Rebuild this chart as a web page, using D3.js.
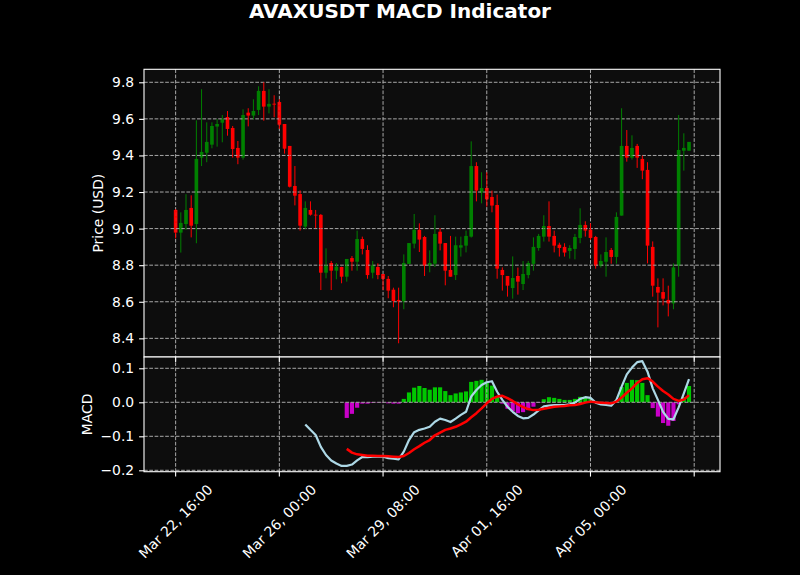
<!DOCTYPE html>
<html>
<head>
<meta charset="utf-8">
<script src="https://cdn.jsdelivr.net/npm/d3@7"></script>
<style>
  body { margin: 0; background: #000; }
  svg { display: block; }
  text { font-family: "DejaVu Sans", sans-serif; fill: #fff; }
</style>
</head>
<body>
<div class="container"></div>
<script>
// 4h candles, first one at Mar 22 16:00
const START = Date.UTC(2025, 2, 22, 16, 0);
const HOUR = 3600 * 1000;
const STEP_H = 4;

const opens = [9.102, 8.978, 9.025, 9.113, 9.025, 9.388, 9.415, 9.459, 9.558, 9.579,
  9.610, 9.550, 9.441, 9.388, 9.634, 9.618, 9.649, 9.753, 9.667, 9.683,
  9.692, 9.572, 9.452, 9.233, 9.189, 9.011, 9.102, 9.076, 9.075, 8.759,
  8.812, 8.770, 8.790, 8.737, 8.839, 8.819, 8.943, 8.883, 8.759, 8.790,
  8.752, 8.725, 8.666, 8.610, 8.602, 8.807, 8.918, 8.993, 8.954, 8.797,
  8.808, 8.983, 8.921, 8.774, 8.746, 8.896, 8.907, 8.956, 9.342, 9.197,
  9.222, 9.173, 9.129, 8.774, 8.741, 8.675, 8.741, 8.697, 8.746, 8.807,
  8.894, 8.956, 9.014, 8.960, 8.912, 8.900, 8.878, 8.889, 8.949, 9.020,
  8.994, 8.954, 8.797, 8.819, 8.883, 8.845, 9.071, 9.452, 9.388, 9.452,
  9.381, 9.321, 8.900, 8.681, 8.653, 8.610, 8.591, 8.797, 9.426, 9.426];
const highs = [9.107, 9.089, 9.188, 9.182, 9.592, 9.762, 9.581, 9.581, 9.599, 9.621,
  9.643, 9.561, 9.479, 9.652, 9.658, 9.707, 9.778, 9.800, 9.762, 9.729,
  9.707, 9.572, 9.452, 9.342, 9.209, 9.149, 9.149, 9.102, 9.080, 8.892,
  8.823, 8.812, 8.792, 8.834, 8.850, 8.989, 8.956, 8.909, 8.823, 8.810,
  8.752, 8.741, 8.677, 8.677, 8.859, 8.921, 9.080, 9.029, 8.960, 8.881,
  9.073, 9.002, 8.921, 8.960, 8.956, 8.956, 8.989, 9.477, 9.363, 9.308,
  9.308, 9.208, 9.186, 8.788, 8.741, 8.848, 8.787, 8.823, 8.823, 8.952,
  8.971, 9.073, 9.149, 8.989, 8.923, 8.920, 8.909, 8.971, 9.111, 9.040,
  9.029, 8.960, 8.859, 8.952, 8.894, 9.089, 9.658, 9.539, 9.510, 9.463,
  9.399, 9.363, 8.930, 8.728, 8.728, 8.688, 8.810, 9.621, 9.521, 9.474];
const lows = [8.947, 8.869, 8.993, 8.952, 8.920, 9.342, 9.363, 9.439, 9.448, 9.472,
  9.508, 9.388, 9.352, 9.377, 9.559, 9.598, 9.621, 9.590, 9.630, 9.609,
  9.545, 9.410, 9.225, 9.127, 8.989, 8.998, 9.071, 9.002, 8.664, 8.728,
  8.664, 8.723, 8.701, 8.710, 8.770, 8.770, 8.859, 8.726, 8.728, 8.723,
  8.664, 8.619, 8.570, 8.373, 8.559, 8.807, 8.892, 8.872, 8.741, 8.761,
  8.790, 8.881, 8.690, 8.737, 8.719, 8.847, 8.870, 8.951, 9.149, 9.138,
  9.120, 9.089, 8.726, 8.661, 8.628, 8.617, 8.639, 8.664, 8.728, 8.770,
  8.879, 8.929, 8.929, 8.870, 8.847, 8.847, 8.836, 8.832, 8.920, 8.956,
  8.938, 8.781, 8.787, 8.737, 8.808, 8.808, 9.071, 9.366, 9.377, 9.332,
  9.270, 8.810, 8.628, 8.460, 8.580, 8.520, 8.559, 8.737, 9.317, 9.426];
const closes = [8.978, 9.031, 9.102, 9.016, 9.381, 9.419, 9.474, 9.561, 9.572, 9.598,
  9.545, 9.435, 9.388, 9.621, 9.618, 9.643, 9.753, 9.667, 9.682, 9.678,
  9.568, 9.437, 9.229, 9.180, 9.016, 9.113, 9.076, 9.073, 8.759, 8.799,
  8.770, 8.792, 8.737, 8.834, 8.819, 8.943, 8.889, 8.746, 8.799, 8.746,
  8.725, 8.661, 8.604, 8.602, 8.812, 8.921, 8.993, 8.940, 8.797, 8.812,
  8.971, 8.918, 8.770, 8.737, 8.909, 8.909, 8.960, 9.342, 9.208, 9.222,
  9.160, 9.126, 8.781, 8.746, 8.688, 8.730, 8.710, 8.752, 8.812, 8.900,
  8.960, 9.014, 8.956, 8.907, 8.894, 8.869, 8.894, 8.954, 9.020, 8.989,
  8.949, 8.797, 8.823, 8.872, 8.845, 9.064, 9.452, 9.388, 9.441, 9.388,
  9.317, 8.907, 8.688, 8.650, 8.617, 8.591, 8.788, 9.430, 9.441, 9.474];

const N = closes.length;
const pad = (k) => new Array(k).fill(null);

const macdLine = pad(25).concat([-0.065, -0.081, -0.096, -0.131, -0.155,
  -0.171, -0.180, -0.187, -0.187, -0.183, -0.171, -0.161, -0.161, -0.160, -0.160,
  -0.160, -0.164, -0.166, -0.168, -0.145, -0.111, -0.088, -0.081, -0.077, -0.072,
  -0.057, -0.048, -0.052, -0.058, -0.048, -0.037, -0.028, 0.017, 0.036, 0.051,
  0.059, 0.062, 0.031, 0.007, -0.013, -0.028, -0.040, -0.047, -0.046, -0.036,
  -0.024, -0.012, -0.010, -0.008, -0.008, -0.008, -0.006, -0.001, 0.010, 0.015,
  0.013, -0.001, -0.006, -0.008, -0.010, 0.007, 0.046, 0.082, 0.102, 0.118,
  0.121, 0.090, 0.041, 0.007, -0.028, -0.049, -0.050, -0.015, 0.026, 0.068]);
const signalLine = pad(33).concat([-0.137, -0.148, -0.153, -0.155, -0.157,
  -0.157, -0.158, -0.158, -0.159, -0.160, -0.161, -0.158, -0.149, -0.138, -0.129,
  -0.119, -0.111, -0.097, -0.089, -0.081, -0.077, -0.072, -0.065, -0.057, -0.044,
  -0.032, -0.018, -0.003, 0.010, 0.017, 0.019, 0.012, 0.004, -0.006, -0.014,
  -0.020, -0.023, -0.022, -0.019, -0.016, -0.013, -0.012, -0.011, -0.009, -0.008,
  -0.005, -0.001, 0.002, 0.000, -0.001, -0.002, -0.003, 0.002, 0.014, 0.028,
  0.041, 0.057, 0.068, 0.071, 0.061, 0.046, 0.033, 0.023, 0.010, 0.004,
  0.008, 0.021]);
const histogram = pad(33).concat([-0.046, -0.034, -0.016, -0.004, -0.004,
  -0.002, -0.001, -0.001, -0.003, -0.004, -0.004, 0.010, 0.029, 0.043, 0.048,
  0.042, 0.037, 0.044, 0.044, 0.033, 0.021, 0.026, 0.029, 0.032, 0.060,
  0.063, 0.066, 0.061, 0.049, 0.017, -0.004, -0.019, -0.027, -0.032, -0.029,
  -0.023, -0.013, -0.002, 0.009, 0.015, 0.013, 0.010, 0.007, 0.007, 0.010,
  0.016, 0.016, 0.010, 0.003, -0.002, -0.003, -0.002, 0.005, 0.045, 0.057,
  0.066, 0.065, 0.057, 0.021, -0.017, -0.042, -0.061, -0.069, -0.055, -0.006,
  0.015, 0.048]);

// x ticks every 80 hours from the first candle; the last one carries no label
const tickHours = [0, 80, 160, 240, 320, 400];
const tickLabels = ["Mar 22, 16:00", "Mar 26, 00:00", "Mar 29, 08:00",
                    "Apr 01, 16:00", "Apr 05, 00:00", ""];
const priceTicks = [8.4, 8.6, 8.8, 9.0, 9.2, 9.4, 9.6, 9.8];
const macdTicks = [-0.2, -0.1, 0.0, 0.1];

const WIDTH = 800;
const HEIGHT = 575;
const PLOT = { LEFT: 144, RIGHT: 720, TOP: 69.3, MID: 357, BOTTOM: 471.7 };
const GRID = '#a8a8a8';
const BG = '#0d0d0d';

const times = d3.range(N).map(i => new Date(START + i * STEP_H * HOUR));

const svg = d3.select('.container').append('svg')
  .attr('width', WIDTH)
  .attr('height', HEIGHT);

svg.append('rect').attr('width', WIDTH).attr('height', HEIGHT).attr('fill', '#000');

const xscale = d3.scaleUtc()
  .domain([new Date(START - 24.4 * HOUR), new Date(START + 419.9 * HOUR)])
  .range([PLOT.LEFT, PLOT.RIGHT]);
const yPrice = d3.scaleLinear().domain([8.298, 9.871]).range([PLOT.MID, PLOT.TOP]);
const yMacd = d3.scaleLinear().domain([-0.2041, 0.1332]).range([PLOT.BOTTOM, PLOT.MID]);

const step = xscale(times[1]) - xscale(times[0]);
const tickDates = tickHours.map(h => new Date(START + h * HOUR));

// title
svg.append('text')
  .attr('x', WIDTH / 2)
  .attr('y', 17.5)
  .attr('text-anchor', 'middle')
  .style('font-size', '20px')
  .style('font-weight', 'bold')
  .text('AVAXUSDT MACD Indicator');

function panel(top, bottom, yscale, ticks, fmt, label, labelX) {
  const g = svg.append('g');
  g.append('rect')
    .attr('x', PLOT.LEFT).attr('y', top)
    .attr('width', PLOT.RIGHT - PLOT.LEFT).attr('height', bottom - top)
    .attr('fill', BG);
  const content = g.append('g');
  const grid = g.append('g');
  grid.selectAll('.vg').data(tickDates).enter().append('line')
    .attr('x1', d => xscale(d)).attr('x2', d => xscale(d))
    .attr('y1', top).attr('y2', bottom)
    .attr('stroke', GRID).attr('stroke-width', 1)
    .attr('stroke-dasharray', '3.7,1.6');
  grid.selectAll('.hg').data(ticks).enter().append('line')
    .attr('x1', PLOT.LEFT).attr('x2', PLOT.RIGHT)
    .attr('y1', d => yscale(d)).attr('y2', d => yscale(d))
    .attr('stroke', GRID).attr('stroke-width', 1)
    .attr('stroke-dasharray', '3.7,1.6');
  const over = g.append('g');

  // y axis
  const axis = d3.axisLeft(yscale).tickValues(ticks).tickFormat(fmt)
    .tickSize(4.9).tickPadding(4.9);
  const ax = g.append('g').attr('transform', `translate(${PLOT.LEFT},0)`).call(axis);
  ax.select('.domain').remove();
  ax.selectAll('line').attr('stroke', '#fff').attr('stroke-width', 1.1);
  ax.selectAll('text').attr('fill', '#fff').style('font-size', '13.9px')
    .style('font-family', '"DejaVu Sans", sans-serif');

  g.append('text')
    .attr('transform', `translate(${labelX},${(top + bottom) / 2}) rotate(-90)`)
    .attr('text-anchor', 'middle')
    .attr('dy', '0.35em')
    .style('font-size', '13.9px')
    .text(label);

  return { content, over, g, top, bottom };
}

const pricePanel = panel(PLOT.TOP, PLOT.MID, yPrice, priceTicks, d3.format('.1f'),
  'Price (USD)', 98.5);
const macdPanel = panel(PLOT.MID, PLOT.BOTTOM, yMacd, macdTicks,
  d => d3.format('.1f')(d).replace('-', '\u2212'), 'MACD', 87.5);

// candles
const candles = d3.range(N).map(i => ({
  t: times[i], o: opens[i], h: highs[i], l: lows[i], c: closes[i]
}));
const candleColor = d => d.c >= d.o ? '#008000' : '#ff0000';

pricePanel.content.selectAll('.body').data(candles).enter().append('rect')
  .attr('x', d => xscale(d.t) - step * 0.35)
  .attr('width', step * 0.7)
  .attr('y', d => yPrice(Math.max(d.o, d.c)))
  .attr('height', d => Math.max(0.8, Math.abs(yPrice(d.o) - yPrice(d.c))))
  .attr('fill', candleColor);

pricePanel.over.selectAll('.wick').data(candles).enter().append('line')
  .attr('x1', d => xscale(d.t)).attr('x2', d => xscale(d.t))
  .attr('y1', d => yPrice(d.h)).attr('y2', d => yPrice(d.l))
  .attr('stroke', candleColor).attr('stroke-width', 1);

// histogram
const histData = d3.range(N).filter(i => histogram[i] != null)
  .map(i => ({ t: times[i], v: histogram[i] }));
macdPanel.content.selectAll('.hist').data(histData).enter().append('rect')
  .attr('x', d => xscale(d.t) - step * 0.4)
  .attr('width', step * 0.8)
  .attr('y', d => yMacd(Math.max(0, d.v)))
  .attr('height', d => Math.abs(yMacd(d.v) - yMacd(0)))
  .attr('fill', d => d.v >= 0 ? '#00c800' : '#c800c8');

const lineGen = d3.line()
  .defined(d => d.v != null)
  .x(d => xscale(d.t))
  .y(d => yMacd(d.v));

macdPanel.over.append('path')
  .datum(d3.range(N).map(i => ({ t: times[i], v: macdLine[i] })))
  .attr('d', lineGen)
  .attr('fill', 'none')
  .attr('stroke', '#add8e6')
  .attr('stroke-width', 2.2)
  .attr('stroke-linejoin', 'round');

macdPanel.over.append('path')
  .datum(d3.range(N).map(i => ({ t: times[i], v: signalLine[i] })))
  .attr('d', lineGen)
  .attr('fill', 'none')
  .attr('stroke', '#ff0000')
  .attr('stroke-width', 2.5)
  .attr('stroke-linejoin', 'round');

// frames
[pricePanel, macdPanel].forEach(p => {
  p.g.append('rect')
    .attr('x', PLOT.LEFT).attr('y', p.top)
    .attr('width', PLOT.RIGHT - PLOT.LEFT).attr('height', p.bottom - p.top)
    .attr('fill', 'none').attr('stroke', '#fff').attr('stroke-width', 1.1);
});

// x axis (ticks on both panels' bottoms, labels only under the MACD panel)
const xTicks = svg.append('g');
[PLOT.MID, PLOT.BOTTOM].forEach(yb => {
  xTicks.selectAll(null).data(tickDates).enter().append('line')
    .attr('x1', d => xscale(d)).attr('x2', d => xscale(d))
    .attr('y1', yb).attr('y2', yb + 4.9)
    .attr('stroke', '#fff').attr('stroke-width', 1.1);
});

const labelTop = PLOT.BOTTOM + 4.9 + 4.9;
tickDates.forEach((d, i) => {
  if (!tickLabels[i]) return;
  const t = svg.append('text')
    .attr('text-anchor', 'middle')
    .attr('dy', '0.35em')
    .style('font-size', '13.9px')
    .text(tickLabels[i]);
  const L = t.node().getComputedTextLength();
  const H = (L + 16) * Math.SQRT1_2;
  t.attr('transform', `translate(${xscale(d)},${labelTop + H / 2}) rotate(-45)`);
});
</script>
</body>
</html>
